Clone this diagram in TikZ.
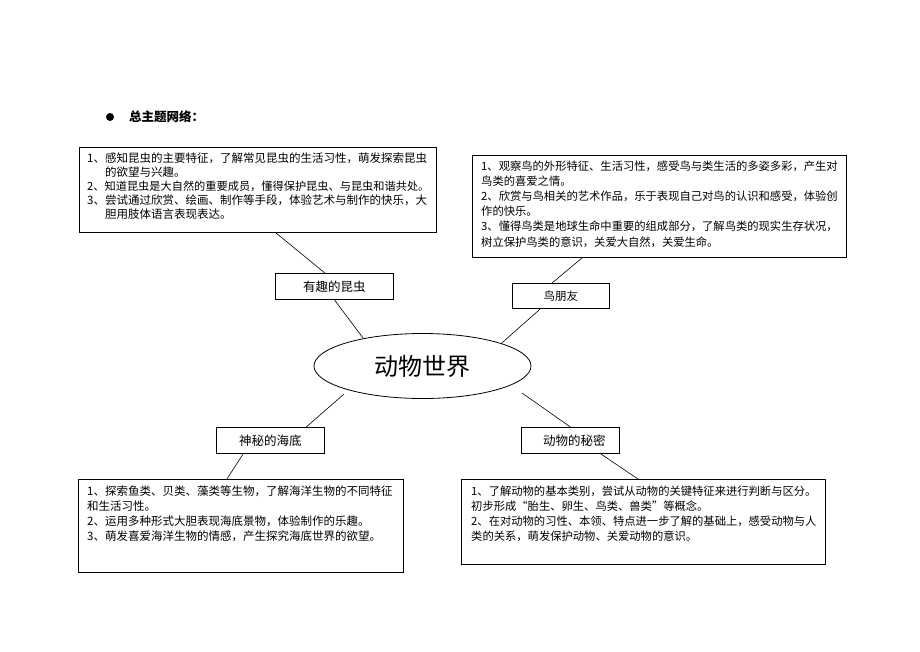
\documentclass[tikz,border=0pt]{standalone}
\usepackage{fontspec}
\setmainfont{Noto Sans CJK SC}
\usetikzlibrary{shapes.geometric,calc}

\begin{document}
\begin{tikzpicture}[x=1pt,y=-1pt,
    box/.style={draw,line width=0.8pt,inner sep=0pt,anchor=north west},
    boxtext/.style={inner sep=0pt,anchor=north west,align=left},
    topic/.style={draw,line width=0.8pt,inner sep=0pt,anchor=north west,
      font=\fontsize{12.5}{14}\selectfont},
    link/.style={line width=0.6pt}]
  \useasboundingbox[fill=white] (0,0) rectangle (920,651);

  % title
  \node[circle,fill,inner sep=0pt,minimum size=8pt] (dot) at (110,117) {};
  \node[anchor=west,inner sep=0pt,font=\fontsize{12.5}{14}\selectfont\bfseries] (title) at (129,117) {总主题网络：};

  % centre
  \node[ellipse,draw,line width=0.8pt,inner sep=0pt,minimum width=217pt,minimum height=65pt,
    font=\fontsize{24}{26}\selectfont] (world) at (422.5,366) {动物世界};

  % topics
  \node[topic,minimum width=118pt,minimum height=26pt] (insect) at (275,273) {有趣的昆虫};
  \node[topic,minimum width=97pt,minimum height=25pt,font=\fontsize{11.5}{13}\selectfont] (bird) at (512,283) {鸟朋友};
  \node[topic,minimum width=108pt,minimum height=26pt] (sea) at (216,427) {神秘的海底};
  \node[topic,minimum width=98pt,minimum height=26pt] (secret) at (521,427) {\hspace*{8pt}动物的秘密};

  % goal boxes
  \node[box,minimum width=357pt,minimum height=85pt] (insectbox) at (79,147) {};
  \node[boxtext,font=\fontsize{11.5}{14}\selectfont] (insecttext) at (87,152.4) {%
    1、感知昆虫的主要特征，了解常见昆虫的生活习性，萌发探索昆虫\\
    \hspace*{1.55em}的欲望与兴趣。\\
    {\fontsize{11.2}{14}\selectfont 2、知道昆虫是大自然的重要成员，懂得保护昆虫、与昆虫和谐共处。}\\
    3、尝试通过欣赏、绘画、制作等手段，体验艺术与制作的快乐，大\\
    \hspace*{1.55em}胆用肢体语言表现表达。};

  \node[box,minimum width=374pt,minimum height=102pt] (birdbox) at (472,155) {};
  \node[boxtext,font=\fontsize{11.3}{15.2}\selectfont] (birdtext) at (481,160.4) {%
    1、观察鸟的外形特征、生活习性，感受鸟与类生活的多姿多彩，产生对\\
    鸟类的喜爱之情。\\
    2、欣赏与鸟相关的艺术作品，乐于表现自己对鸟的认识和感受，体验创\\
    作的快乐。\\
    3、懂得鸟类是地球生命中重要的组成部分，了解鸟类的现实生存状况，\\
    树立保护鸟类的意识，关爱大自然，关爱生命。};

  \node[box,minimum width=325pt,minimum height=93pt] (seabox) at (78,479) {};
  \node[boxtext,font=\fontsize{11.5}{15}\selectfont] (seatext) at (87,485.4) {%
    1、探索鱼类、贝类、藻类等生物，了解海洋生物的不同特征\\
    和生活习性。\\
    2、运用多种形式大胆表现海底景物，体验制作的乐趣。\\
    3、萌发喜爱海洋生物的情感，产生探究海底世界的欲望。};

  \node[box,minimum width=364pt,minimum height=85pt] (secretbox) at (461,479) {};
  \node[boxtext,font=\fontsize{11.3}{15}\selectfont] (secrettext) at (471,485.4) {%
    1、了解动物的基本类别，尝试从动物的关键特征来进行判断与区分。\\
    初步形成“胎生、卵生、鸟类、兽类”等概念。\\
    2、在对动物的习性、本领、特点进一步了解的基础上，感受动物与人\\
    类的关系，萌发保护动物、关爱动物的意识。};

  % connectors
  \coordinate (worldsw) at ($(world.center)+(-78.5,28)$);
  \coordinate (worldse) at ($(world.center)+(99.5,27)$);

  \draw[link] ($(insectbox.south west)!0.55!(insectbox.south east)$) -- ($(insect.north west)!0.42!(insect.north east)$);
  \draw[link] ($(insect.south west)!0.5!(insect.south east)$) -- (world.155);

  \draw[link] ($(birdbox.south west)!0.294!(birdbox.south east)$) -- ($(bird.north west)!0.41!(bird.north east)$);
  \draw[link] ($(bird.south west)!0.29!(bird.south east)$) -- (world.16);

  \draw[link] (worldsw) -- ($(sea.north west)!0.83!(sea.north east)$);
  \draw[link] ($(sea.south west)!0.25!(sea.south east)$) -- ($(seabox.north west)!0.457!(seabox.north east)$);

  \draw[link] (worldse) -- ($(secret.north west)!0.5!(secret.north east)$);
  \draw[link] ($(secret.south west)!0.806!(secret.south east)$) -- ($(secretbox.north west)!0.485!(secretbox.north east)$);
\end{tikzpicture}
\end{document}
